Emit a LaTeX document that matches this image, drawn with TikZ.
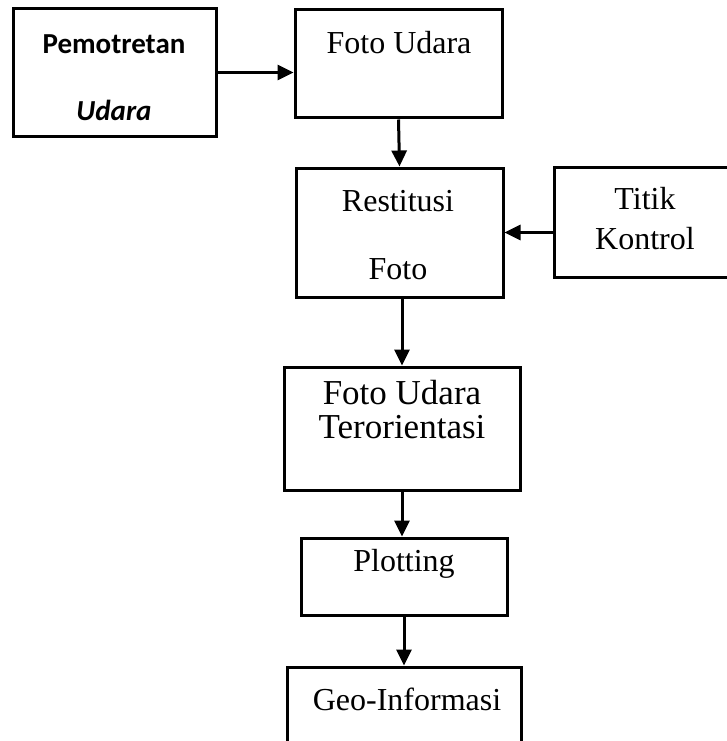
\documentclass[tikz,border=0pt]{standalone}
\usepackage{fontspec}
\setmainfont{Liberation Serif}
\newfontfamily\calibfont{Carlito}
\usepackage{tikz}
\usetikzlibrary{arrows.meta}

\begin{document}
\begin{tikzpicture}[x=1pt,y=-1pt,->,>={Triangle[length=16pt,width=15pt]},
                    line width=3pt]
  \tikzstyle{box} = [draw, rectangle, line width=3pt, inner sep=0pt]
  \tikzstyle{txt} = [inner sep=0pt, font=\fontsize{32}{38}\selectfont]
  \tikzstyle{sans} = [inner sep=0pt, font=\calibfont\bfseries\fontsize{29}{34}\selectfont]
  \useasboundingbox (0,0) rectangle (727,741);
  \clip (0,0) rectangle (727,741);
  \node [box, minimum width=203pt, minimum height=127pt] (pemotretan) at (114.5,72.5) {};
  \node [box, minimum width=207pt, minimum height=108pt] (foto) at (398.5,64) {};
  \node [box, minimum width=207pt, minimum height=129pt] (restitusi) at (399.5,232.5) {};
  \node [box, minimum width=182pt, minimum height=110pt] (titik) at (645,222) {};
  \node [box, minimum width=236pt, minimum height=123pt] (terorientasi) at (402,428.5) {};
  \node [box, minimum width=206pt, minimum height=77pt] (plotting) at (404,576.5) {};
  \node [box, minimum width=234pt, minimum height=102pt] (geo) at (404,718) {};

  \node [sans] (pemotretan1) at (114,44) {Pemotretan};
  \node [sans] (pemotretan2) at (114,110) {\itshape Udara};
  \node [txt] (foto1) at (399,43) {Foto Udara};
  \node [txt] (restitusi1) at (398,201) {Restitusi};
  \node [txt] (restitusi2) at (398,269) {Foto};
  \node [txt] (titik1) at (645,199) {Titik};
  \node [txt] (titik2) at (645,239) {Kontrol};
  \node [txt, font=\fontsize{35}{40}\selectfont] (terorientasi1) at (402,393) {Foto Udara};
  \node [txt, font=\fontsize{35}{40}\selectfont] (terorientasi2) at (402,427) {Terorientasi};
  \node [txt] (plotting1) at (404,564) {Plotting};
  \node [txt] (geo1) at (407,699) {Geo-Informasi};

  \draw (pemotretan.east) -- (pemotretan.east -| foto.west);
  \draw (foto.south) -- (restitusi.north);
  \draw (titik.west |- restitusi.east) -- (restitusi.east);
  \draw (terorientasi.north |- restitusi.south) -- (terorientasi.north);
  \draw (terorientasi.south) -- (terorientasi.south |- plotting.north);
  \draw (plotting.south) -- (plotting.south |- geo.north);
\end{tikzpicture}
\end{document}
